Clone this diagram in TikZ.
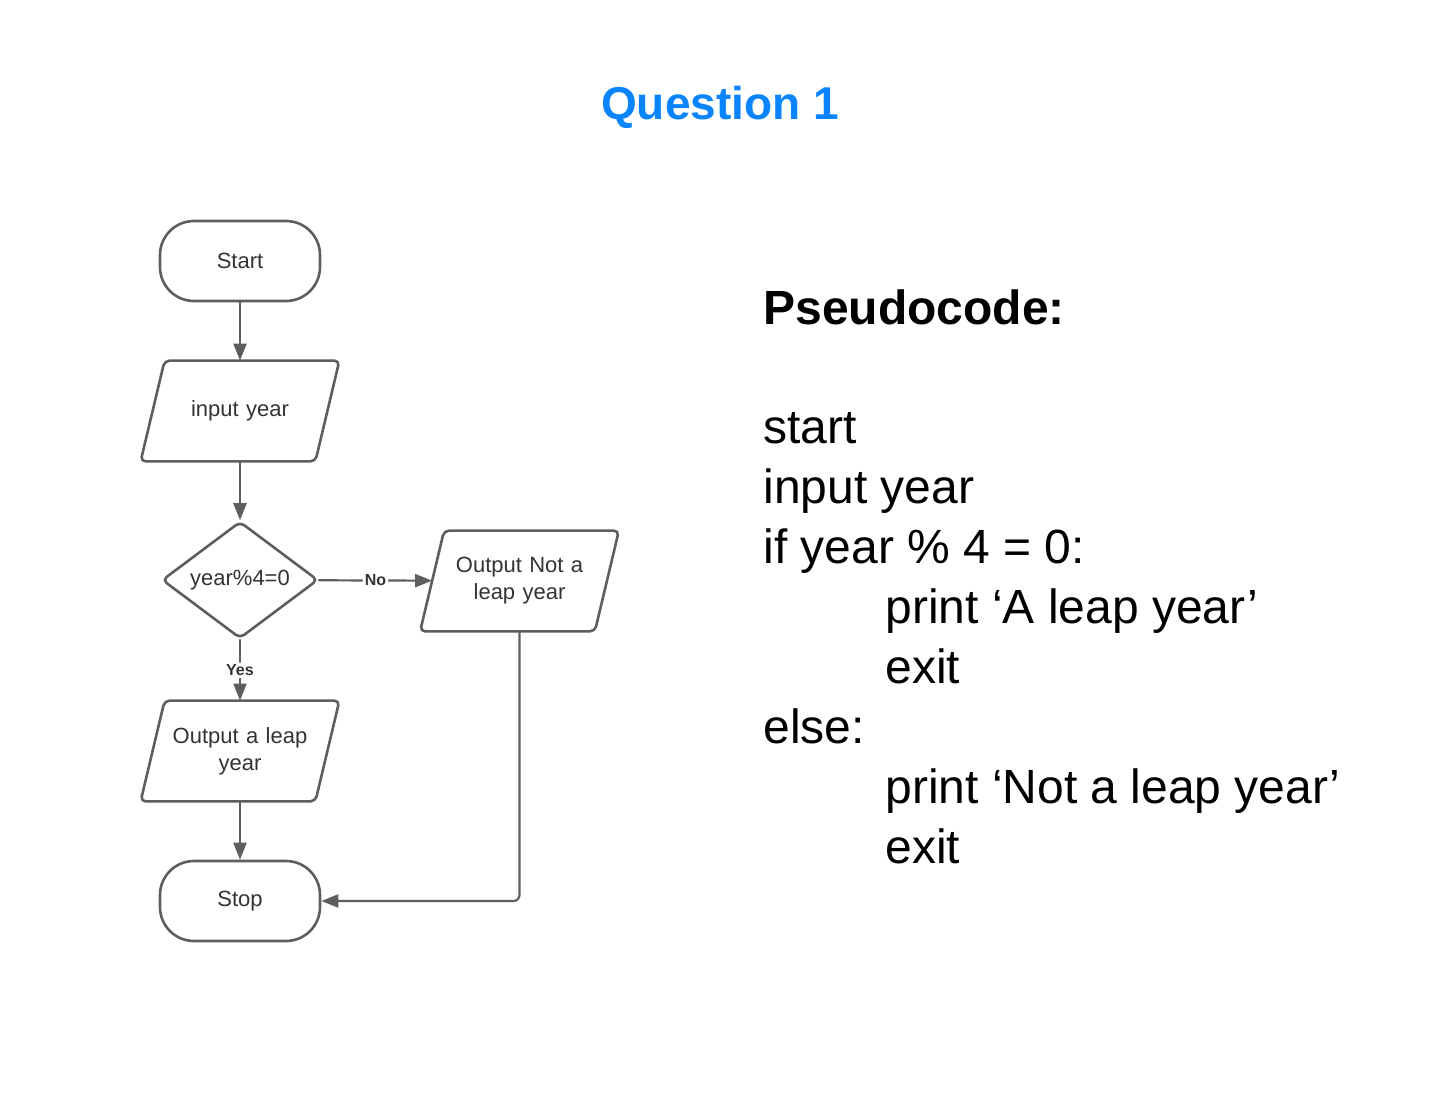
\documentclass[tikz,border=0pt]{standalone}
\usepackage{fontspec}
\setmainfont{Liberation Sans}
\usetikzlibrary{shapes.geometric,arrows.meta}
\definecolor{linegray}{HTML}{5E5E5E}
\definecolor{textgray}{HTML}{333333}
\definecolor{titleblue}{HTML}{0A84FF}
\begin{document}
\begin{tikzpicture}[x=0.5pt, y=-0.5pt, line cap=round, line join=round, >={Triangle[length=8.5pt,width=6.5pt]}]
	\tikzset{terminal/.style={draw=linegray, line width=1.3pt, rectangle, rounded corners=17pt, minimum width=80pt, minimum height=40pt, text=textgray, font=\fontsize{11}{13.5}\selectfont},
		iobox/.style={rectangle, minimum width=87pt, minimum height=50pt, inner sep=0pt, align=center, text width=80pt, text=textgray, font=\fontsize{11}{13.5}\selectfont,
			append after command={\pgfextra{\draw[draw=linegray, line width=1.3pt, rounded corners=2.5pt] ([xshift=6pt]\tikzlastnode.north west) -- ([xshift=6pt]\tikzlastnode.north east) -- ([xshift=-6pt]\tikzlastnode.south east) -- ([xshift=-6pt]\tikzlastnode.south west) -- cycle;}}},
		decision/.style={draw=linegray, line width=1.3pt, diamond, aspect=1.333, minimum width=78pt, minimum height=58.5pt, inner sep=0pt, rounded corners=2.5pt, text=textgray, font=\fontsize{11}{13.5}\selectfont},
		flow/.style={draw=linegray, line width=1.1pt, ->, rounded corners=3pt},
		answer/.style={fill=white, inner sep=1pt, text=textgray, font=\fontsize{8}{10}\selectfont\bfseries},
		code/.style={anchor=base west, inner sep=0pt, font=\fontsize{24}{28}\selectfont}}
	\useasboundingbox (0,0) rectangle (1442,1097);
	% title
	\node (title) at (720,107) [text=titleblue, font=\fontsize{23}{28}\selectfont\bfseries] {Question 1};
	% flowchart
	\node (start) at (240,261) [terminal] {Start};
	\node (input) at (240,411) [iobox] {input year};
	\node (check) at (240,580) [decision] {year\%4=0};
	\node (notleap) at (519.5,581) [iobox] {Output Not a\\leap year};
	\node (leap) at (240,751) [iobox] {Output a leap\\year};
	\node (stop) at (240,901) [terminal] {Stop};
	\draw[flow] (start) -- (input);
	\draw[flow] (input) -- (check);
	\draw[flow] (check) -- node[answer] {No} (notleap);
	\draw[flow] (check) -- node[answer] {Yes} (leap);
	\draw[flow] (leap) -- (stop);
	\draw[flow] (notleap.south) |- (stop.east);
	% pseudocode
	\node (pchead) at (763,324) [code, font=\fontsize{24}{28}\selectfont\bfseries] {Pseudocode:};
	\node (pcstart) at (763,443) [code] {start};
	\node (pcinput) at (763,503) [code] {input year};
	\node (pcif) at (763,563) [code] {if year \% 4 = 0:};
	\node (pcyes) at (885,623) [code] {print ‘A leap year’};
	\node (pcexita) at (885,683) [code] {exit};
	\node (pcelse) at (763,743) [code] {else:};
	\node (pcno) at (885,803) [code] {print ‘Not a leap year’};
	\node (pcexitb) at (885,863) [code] {exit};
\end{tikzpicture}
\end{document}
